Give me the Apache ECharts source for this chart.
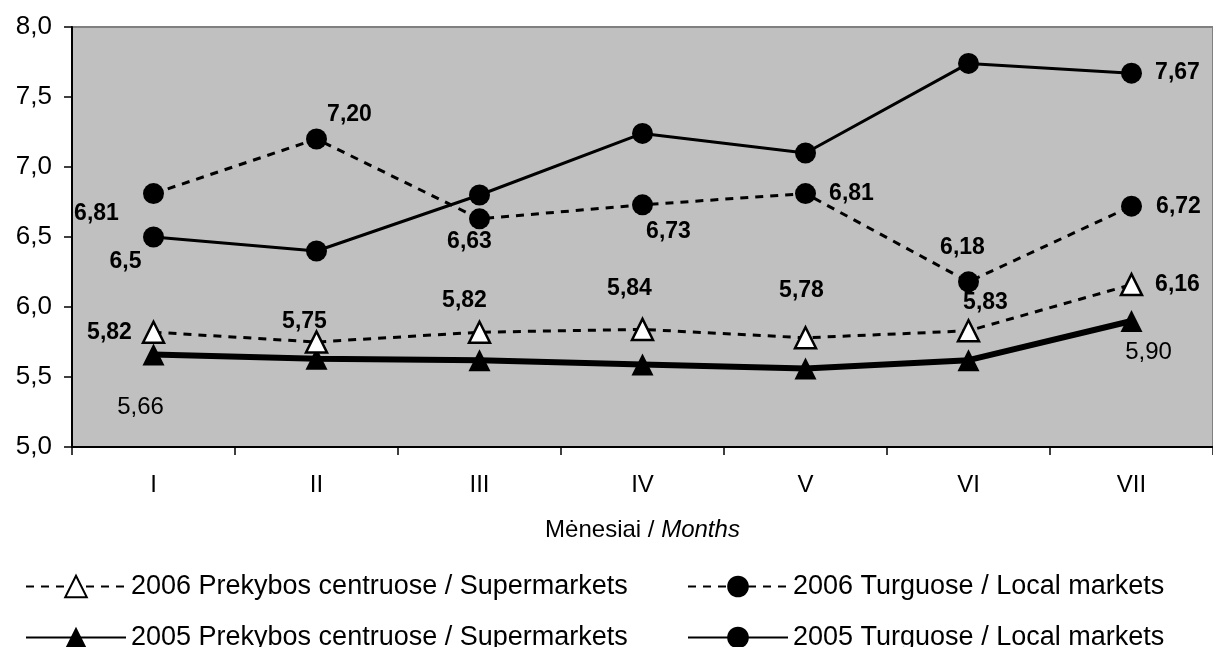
<!DOCTYPE html>
<html>
<head>
<meta charset="utf-8">
<script src="https://cdn.jsdelivr.net/npm/echarts@6/dist/echarts.min.js"></script>
<style>
  html, body { margin: 0; padding: 0; background: #fff; }
  #chart { width: 1213px; height: 647px; }
</style>
</head>
<body>
<div id="chart"></div>
<script>
// Months (Roman numerals)
const months = ['I', 'II', 'III', 'IV', 'V', 'VI', 'VII'];

// Average prices by month
const super2006 = [5.82, 5.75, 5.82, 5.84, 5.78, 5.83, 6.16];
const local2006 = [6.81, 7.20, 6.63, 6.73, 6.81, 6.18, 6.72];
const super2005 = [5.66, 5.63, 5.62, 5.59, 5.56, 5.62, 5.90];
const local2005 = [6.50, 6.40, 6.80, 7.24, 7.10, 7.74, 7.67];

// Y-axis ticks
const yTicks = [5.0, 5.5, 6.0, 6.5, 7.0, 7.5, 8.0];

// Series names
const names = [
  '2006 Prekybos centruose / Supermarkets',
  '2006 Turguose / Local markets',
  '2005 Prekybos centruose / Supermarkets',
  '2005 Turguose / Local markets'
];

// Value label placement per point: [dx, dy, decimals] or null (no label)
const super2006Lbl = [[-44, 0, 2], [-12, -20, 2], [-15, -32, 2], [-13, -41, 2], [-4, -47, 2], [17, -28, 2], [46, 0, 2]];
const local2006Lbl = [[-57, 20, 2], [33, -24, 2], [-10, 23, 2], [26, 27, 2], [46, 0, 2], [-6, -34, 2], [47, 0, 2]];
const super2005Lbl = [[-13, 53, 2], null, null, null, null, null, [17, 31, 2]];
const local2005Lbl = [[-28, 25, 1], null, null, null, null, null, [46, -1, 2]];

const FONT = '"Liberation Sans", Arial, sans-serif';

function fmt(v, d) { return v.toFixed(d).replace('.', ','); }

function points(values, lbls, bold) {
  return values.map(function (v, i) {
    const l = lbls[i];
    if (!l) return { value: v, label: { show: false } };
    return {
      value: v,
      label: {
        show: true,
        position: 'inside',
        offset: [l[0], l[1]],
        formatter: fmt(v, l[2]),
        color: '#000',
        fontFamily: FONT,
        fontSize: bold ? 23 : 24,
        fontWeight: bold ? 'bold' : 'normal'
      }
    };
  });
}

const chart = echarts.init(document.getElementById('chart'), null, { renderer: 'canvas' });

const dash = [8, 7];

const legendBase = {
  orient: 'horizontal',
  itemWidth: 100,
  itemHeight: 27,
  textStyle: { fontFamily: FONT, fontSize: 27, color: '#000' },
  selectedMode: false
};

chart.setOption({
  animation: false,
  backgroundColor: '#fff',
  grid: {
    left: 72, top: 27, right: -8, bottom: 200,
    show: true,
    backgroundColor: '#c0c0c0',
    borderColor: '#808080',
    borderWidth: 2,
    containLabel: false
  },
  legend: [
    Object.assign({}, legendBase, { left: 20, top: 568, data: [names[0]] }),
    Object.assign({}, legendBase, { left: 682, top: 568, data: [names[1]] }),
    Object.assign({}, legendBase, { left: 20, top: 619, data: [names[2]] }),
    Object.assign({}, legendBase, { left: 682, top: 619, data: [names[3]] })
  ],
  xAxis: {
    type: 'category',
    data: months,
    boundaryGap: true,
    axisLine: { lineStyle: { color: '#000', width: 2 } },
    axisTick: { show: true, length: 8, lineStyle: { color: '#000', width: 1.5 } },
    axisLabel: { margin: 26, fontFamily: FONT, fontSize: 24, color: '#000' },
    name: '{a|Mėnesiai / }{b|Months}',
    nameLocation: 'middle',
    nameGap: 71,
    nameTextStyle: {
      rich: {
        a: { fontFamily: FONT, fontSize: 24, color: '#000' },
        b: { fontFamily: FONT, fontSize: 24, color: '#000', fontStyle: 'italic' }
      }
    }
  },
  yAxis: {
    type: 'value',
    min: yTicks[0],
    max: yTicks[yTicks.length - 1],
    interval: yTicks[1] - yTicks[0],
    axisLine: { show: true, lineStyle: { color: '#000', width: 2 } },
    axisTick: { show: true, length: 8, lineStyle: { color: '#000', width: 1.5 } },
    splitLine: { show: false },
    axisLabel: {
      margin: 20,
      fontFamily: FONT,
      fontSize: 26,
      color: '#000',
      formatter: function (v) { return fmt(v, 1); }
    }
  },
  series: [
    {
      name: names[3],
      type: 'line',
      data: points(local2005, local2005Lbl, true),
      symbol: 'circle',
      symbolSize: 21,
      lineStyle: { color: '#000', width: 3, type: 'solid' },
      itemStyle: { color: '#000', borderWidth: 0 },
      z: 2
    },
    {
      name: names[1],
      type: 'line',
      data: points(local2006, local2006Lbl, true),
      symbol: 'circle',
      symbolSize: 21,
      lineStyle: { color: '#000', width: 3, type: dash },
      itemStyle: { color: '#000', borderWidth: 0 },
      z: 3
    },
    {
      name: names[2],
      type: 'line',
      data: points(super2005, super2005Lbl, false),
      symbol: 'triangle',
      symbolSize: 22,
      lineStyle: { color: '#000', width: 6, type: 'solid' },
      itemStyle: { color: '#000', borderWidth: 0 },
      z: 4
    },
    {
      name: names[0],
      type: 'line',
      data: points(super2006, super2006Lbl, true),
      symbol: 'triangle',
      symbolSize: 21,
      lineStyle: { color: '#000', width: 3, type: dash },
      itemStyle: { color: '#fff', borderColor: '#000', borderWidth: 2.5 },
      z: 5
    }
  ]
});
</script>
</body>
</html>
